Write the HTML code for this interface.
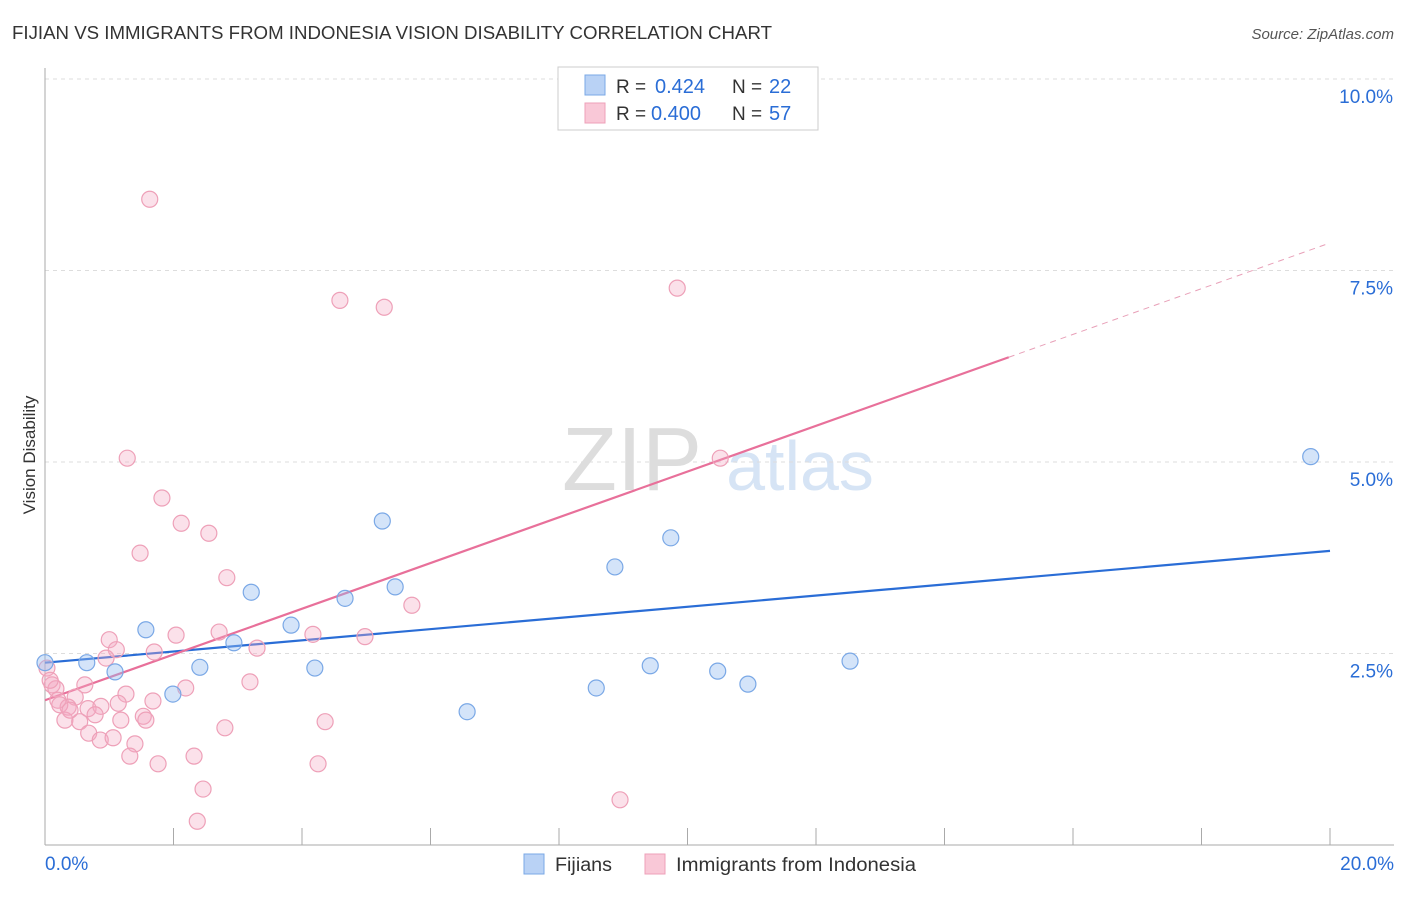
<!DOCTYPE html>
<html><head><meta charset="utf-8"><style>
body{margin:0;background:#fff;font-family:"Liberation Sans",sans-serif;}
svg text{font-family:"Liberation Sans",sans-serif;}
</style></head><body>
<svg id="c" width="1406" height="892" viewBox="0 0 1406 892">
<text x="12" y="39" font-size="18" fill="#333" textLength="760" lengthAdjust="spacingAndGlyphs">FIJIAN VS IMMIGRANTS FROM INDONESIA VISION DISABILITY CORRELATION CHART</text>
<text x="1394" y="39" font-size="15" fill="#555" font-style="italic" text-anchor="end">Source: ZipAtlas.com</text>
<text x="35" y="455" font-size="17" fill="#333" text-anchor="middle" transform="rotate(-90 35 455)">Vision Disability</text>
<g>
<text x="632" y="490" font-size="90" fill="#ddd" font-family="Liberation Serif" text-anchor="middle">ZIP</text>
<text x="800" y="490" font-size="70" fill="#d6e4f5" text-anchor="middle">atlas</text>
</g>
<g id="grid"></g><g id="axes"></g><g id="lines"></g><g id="pts"></g>
<g>
<rect x="558" y="67" width="260" height="63" fill="#fff" stroke="#ccc"/>
<rect x="585" y="75" width="20" height="20" fill="#b9d2f5" stroke="#7aa8e6"/>
<rect x="585" y="103" width="20" height="20" fill="#f9c8d7" stroke="#eea0b8"/>
<text x="616" y="93" font-size="19" fill="#333">R =</text>
<text x="655" y="93" font-size="20" fill="#2a6dd6">0.424</text>
<text x="732" y="93" font-size="19" fill="#333">N =</text>
<text x="769" y="93" font-size="20" fill="#2a6dd6">22</text>
<text x="616" y="120" font-size="19" fill="#333">R =</text>
<text x="651" y="120" font-size="20" fill="#2a6dd6">0.400</text>
<text x="732" y="120" font-size="19" fill="#333">N =</text>
<text x="769" y="120" font-size="20" fill="#2a6dd6">57</text>
</g>
<g>
<rect x="524" y="854" width="20" height="20" fill="#b9d2f5" stroke="#7aa8e6"/>
<text x="555" y="871" font-size="19" fill="#333" textLength="57" lengthAdjust="spacingAndGlyphs">Fijians</text>
<rect x="645" y="854" width="20" height="20" fill="#f9c8d7" stroke="#eea0b8"/>
<text x="676" y="871" font-size="19" fill="#333" textLength="240" lengthAdjust="spacingAndGlyphs">Immigrants from Indonesia</text>
</g>
</svg>
<script>
const blueX=[0,0.65,1.09,1.57,1.99,2.41,2.94,3.21,3.83,4.20,4.67,5.25,5.45,6.57,8.58,8.87,9.42,9.74,10.47,10.94,12.53,19.70];
const blueY=[2.38,2.38,2.26,2.81,1.97,2.32,2.64,3.30,2.87,2.31,3.22,4.23,3.37,1.74,2.05,3.63,2.34,4.01,2.27,2.10,2.40,5.07];
const pinkX=[1.63,4.59,5.28,9.84,1.28,10.51,1.82,2.12,2.55,1.48,2.83,5.71,1.00,2.04,2.71,4.17,4.98,3.30,1.11,1.70,0.95,0.03,0.11,0.17,0.62,3.19,2.19,1.26,1.68,0.47,0.20,0.36,0.67,0.87,1.14,0.78,1.53,1.57,1.18,0.31,0.54,4.36,2.80,0.68,0.86,1.06,1.40,1.32,2.32,1.76,4.25,2.46,8.95,2.37,0.23,0.08,0.39];
const pinkY=[8.43,7.11,7.02,7.27,5.05,5.05,4.53,4.20,4.07,3.81,3.49,3.13,2.68,2.74,2.78,2.75,2.72,2.57,2.55,2.52,2.44,2.31,2.09,2.04,2.09,2.13,2.05,1.97,1.88,1.93,1.89,1.80,1.78,1.81,1.85,1.70,1.68,1.63,1.63,1.63,1.61,1.61,1.53,1.46,1.37,1.40,1.32,1.16,1.16,1.06,1.06,0.73,0.59,0.31,1.83,2.15,1.76];
const blueTrend=[2.38,3.84];
const pinkTrend=[1.89,7.86];
const pinkSolidEnd=15;
const yTicks=[2.5,5,7.5,10];
const yTickLabels=["2.5%","5.0%","7.5%","10.0%"];
const xTicks=[0,2,4,6,8,10,12,14,16,18,20];
const xs=v=>45+v*64.25, ys=v=>845-v*76.6;
const NS="http://www.w3.org/2000/svg";
function mk(p,t,a){const e=document.createElementNS(NS,t);for(const k in a)e.setAttribute(k,a[k]);document.getElementById(p).appendChild(e);return e;}
yTicks.forEach((v,i)=>{
 const l=mk('grid','line',{x1:45,x2:1394,y1:ys(v),y2:ys(v),stroke:'#ddd','stroke-dasharray':'4,4'});
 
 
 const t=mk('grid','text',{x:1393,y:ys(v)+24,'font-size':19,fill:'#2a6dd6','text-anchor':'end'});
 t.textContent=yTickLabels[i];
 
 
});
let ax=mk('axes','line',{x1:45,x2:45,y1:68,y2:845,stroke:'#aaa'});


ax=mk('axes','line',{x1:45,x2:1394,y1:845,y2:845,stroke:'#aaa'});


xTicks.forEach(v=>{const t=mk('axes','line',{x1:xs(v),x2:xs(v),y1:828,y2:845,stroke:'#aaa'});
 
 });
let t0=mk('axes','text',{x:45,y:870,'font-size':19,fill:'#2a6dd6'});t0.textContent='0.0%';


t0=mk('axes','text',{x:1394,y:870,'font-size':19,fill:'#2a6dd6','text-anchor':'end'});t0.textContent='20.0%';


function dot(x,y,f,s,n){const c=mk('pts','circle',{cx:xs(x),cy:ys(y),r:8,fill:f,stroke:s,'stroke-width':1.2});
 
 }
pinkX.forEach((x,i)=>dot(x,pinkY[i],'rgba(244,170,195,0.35)','#eea0b8','pink-point'));
blueX.forEach((x,i)=>dot(x,blueY[i],'rgba(147,187,240,0.4)','#7aa8e6','blue-point'));
const pAt=x=>pinkTrend[0]+(pinkTrend[1]-pinkTrend[0])*x/20;
let l=mk('lines','line',{x1:xs(0),y1:ys(blueTrend[0]),x2:xs(20),y2:ys(blueTrend[1]),stroke:'#2a6dd6','stroke-width':2.2});


l=mk('lines','line',{x1:xs(0),y1:ys(pinkTrend[0]),x2:xs(pinkSolidEnd),y2:ys(pAt(pinkSolidEnd)),stroke:'#e8709a','stroke-width':2.2});


l=mk('lines','line',{x1:xs(pinkSolidEnd),y1:ys(pAt(pinkSolidEnd)),x2:xs(20),y2:ys(pinkTrend[1]),stroke:'#e8a0b8','stroke-width':1,'stroke-dasharray':'6,5'});


</script>
</body></html>
